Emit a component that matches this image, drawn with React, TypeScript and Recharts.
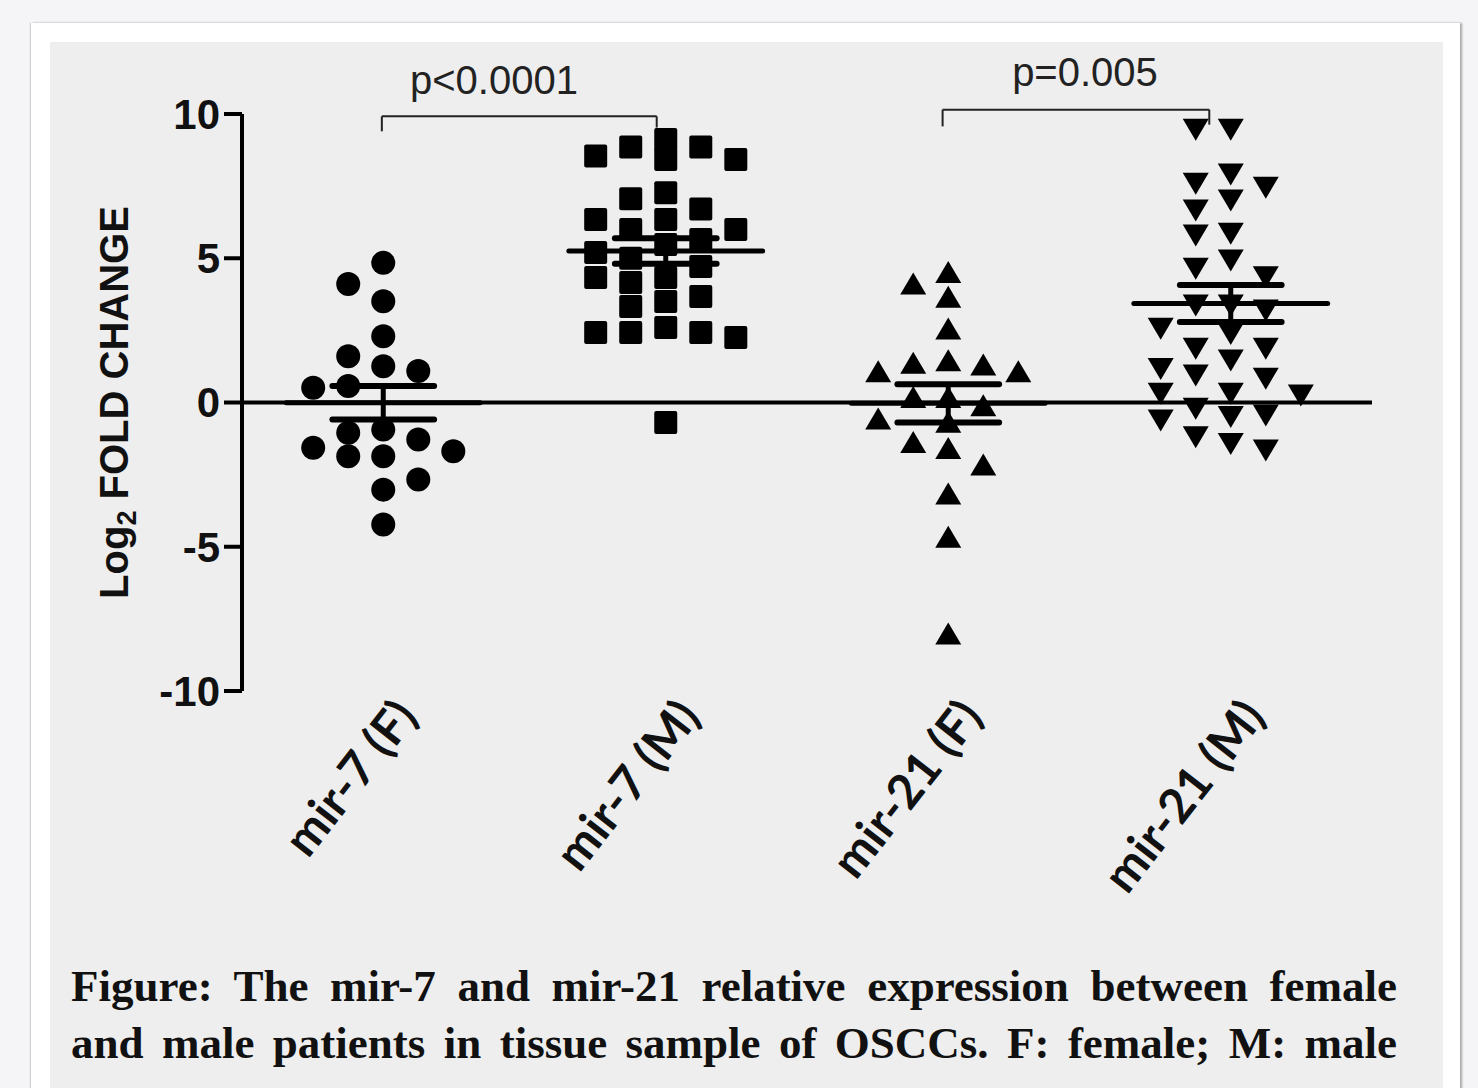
import React from 'react';
import { ScatterChart, Scatter, XAxis, YAxis, ReferenceLine, ReferenceDot } from 'recharts';

// groups on the x axis
const groups = ['mir-7 (F)', 'mir-7 (M)', 'mir-21 (F)', 'mir-21 (M)'];

// log2 fold change per patient
const mir7F = [4.84, 4.11, 3.51, 2.3, 1.6, 1.09, 1.26, 0.51, 0.57, -0.94, -1.28, -1.05, -1.69, -1.86, -1.86, -1.57, -2.67, -3.02, -4.23];
const mir7M = [9.12, 8.86, 8.86, 8.54, 8.42, 8.42, 7.27, 7.06, 6.71, 6.34, 6.34, 6.0, 6.0, 5.65, 5.48, 5.2, 5.0, 4.71, 4.33, 4.33, 4.16, 3.67, 3.5, 3.33, 2.6, 2.43, 2.43, 2.43, 2.25, -0.69];
const mir21F = [4.49, 4.09, 3.63, 2.53, 1.43, 1.34, 1.28, 1.05, 1.05, 0.16, 0.16, -0.13, -0.59, -0.7, -1.4, -1.61, -2.18, -3.19, -4.69, -8.04];
const mir21M = [9.49, 9.49, 7.94, 7.62, 7.48, 7.04, 6.69, 5.88, 5.82, 4.96, 4.67, 4.38, 3.4, 3.4, 3.22, 2.59, 2.41, 1.9, 1.9, 1.49, 1.2, 0.97, 0.86, 0.34, 0.34, 0.28, -0.18, -0.42, -0.47, -0.59, -1.17, -1.4, -1.63];

// mean +/- SEM bars as drawn
const groupMeans = [-0.01, 5.25, -0.03, 3.43];
const groupSems = [0.58, 0.44, 0.66, 0.64];

const yTicks = [-10, -5, 0, 5, 10];

const pLabels = ['p<0.0001', 'p=0.005'];

// layout bits
const SLOT = 0.124; // horizontal spacing of the dot columns (x units)
const GAP = 0.83; // marker height in y units
const MEAN_HALF = 0.343;
const CAP_HALF = 0.18;

// simple column swarm so the dots do not overlap
function swarm(values: number[], gi: number) {
  const placed: { slot: number; y: number }[] = [];
  const sorted = [...values].sort((a, b) => b - a);
  return sorted.map((v) => {
    const slots = [0, -1, 1, -2, 2];
    let best = 0;
    let bestD = -1;
    for (const s of slots) {
      const ds = placed.filter((p) => p.slot === s).map((p) => Math.abs(p.y - v));
      const d = ds.length ? Math.min(...ds) : Infinity;
      if (d >= GAP) {
        best = s;
        break;
      }
      if (d > bestD) {
        bestD = d;
        best = s;
      }
    }
    placed.push({ slot: best, y: v });
    return { x: gi + 0.5 + best * SLOT, y: v };
  });
}

const series = [mir7F, mir7M, mir21F, mir21M].map((vals, i) => swarm(vals, i));

const Dot = (p: any) => <circle cx={p.cx} cy={p.cy} r={12} fill="#000" />;
const Sq = (p: any) => <rect x={p.cx - 11.5} y={p.cy - 11.5} width={23} height={23} rx={2} fill="#000" />;
const TriUp = (p: any) => (
  <polygon points={`${p.cx},${p.cy - 12} ${p.cx - 13},${p.cy + 10} ${p.cx + 13},${p.cy + 10}`} fill="#000" />
);
const TriDown = (p: any) => (
  <polygon points={`${p.cx - 13},${p.cy - 10} ${p.cx + 13},${p.cy - 10} ${p.cx},${p.cy + 12}`} fill="#000" />
);
const shapes = [Dot, Sq, TriUp, TriDown];

const XTick = (props: any) => {
  const { x, y, payload } = props;
  const tx = x + 36;
  const ty = y + 26;
  return (
    <text
      x={tx}
      y={ty}
      transform={`rotate(-52 ${tx} ${ty})`}
      textAnchor="end"
      fontFamily="Lato, 'Open Sans', sans-serif"
      fontWeight={700}
      fontSize={48}
      fill="#111"
    >
      {groups[Math.floor(payload.value)]}
    </text>
  );
};

const YLabel = (props: any) => {
  const vb = props.viewBox || { x: 0, y: 114, width: 242, height: 577 };
  const tx = vb.x + 128;
  const ty = vb.y + vb.height / 2;
  return (
    <text
      x={tx}
      y={ty}
      transform={`rotate(-90 ${tx} ${ty})`}
      textAnchor="middle"
      fontFamily="'Liberation Sans', Arial, sans-serif"
      fontWeight={700}
      fontSize={40}
      fill="#111"
    >
      Log
      <tspan dy={8} fontSize={27}>2</tspan>
      <tspan dy={-8}> FOLD CHANGE</tspan>
    </text>
  );
};

const PLabel = (props: any) => {
  const vb = props.viewBox || { x: 0, y: 0 };
  return (
    <text
      x={vb.x}
      y={vb.y}
      textAnchor="middle"
      fontFamily="'Liberation Sans', Arial, sans-serif"
      fontSize={40}
      fill="#222"
    >
      {props.text}
    </text>
  );
};

// bracket geometry (x in group units, y in data units)
const brackets = [
  { x1: 0.495, x2: 1.468, top: 9.92, l: 9.4, r: 9.53, tx: 0.892, ty: 10.69 },
  { x1: 2.48, x2: 3.424, top: 10.15, l: 9.57, r: 9.63, tx: 2.984, ty: 10.97 },
];

export default function App() {
  const axisFont = { fontFamily: "'Liberation Sans', Arial, sans-serif", fontWeight: 700, fontSize: 42, fill: '#111' };
  return (
    <div
      style={{
        position: 'absolute',
        left: 0,
        top: 0,
        width: 1478,
        height: 1088,
        background: '#f5f5f7',
        overflow: 'hidden',
      }}
    >
      <div
        style={{
          position: 'absolute',
          left: 31,
          top: 23,
          width: 1429,
          height: 1100,
          background: '#fff',
          boxShadow: '-1px 0 1px #cfcfcf, 2px 0 2px #a8a8a8',
        }}
      />
      <div style={{ position: 'absolute', left: 50, top: 42, width: 1393, height: 1100, background: '#eeeeee' }} />
      <div style={{ position: 'absolute', left: 0, top: 0 }}>
        <ScatterChart width={1478} height={1000} margin={{ top: 114, right: 106, bottom: 0, left: 0 }}>
          <XAxis
            type="number"
            dataKey="x"
            domain={[0, 4]}
            ticks={[0.5, 1.5, 2.5, 3.5]}
            axisLine={false}
            tickLine={false}
            tickSize={0}
            tickMargin={0}
            height={309}
            interval={0}
            tick={<XTick />}
          />
          <YAxis
            type="number"
            dataKey="y"
            domain={[-10, 10]}
            ticks={yTicks}
            width={242}
            interval={0}
            axisLine={{ stroke: '#000', strokeWidth: 4 }}
            tickLine={{ stroke: '#000', strokeWidth: 4 }}
            tickSize={18}
            tickMargin={4}
            tick={axisFont}
            label={<YLabel />}
          />
          <ReferenceLine y={0} stroke="#000" strokeWidth={4} />
          {series.map((data, i) => (
            <Scatter key={groups[i]} data={data} shape={shapes[i]} isAnimationActive={false} />
          ))}
          {groupMeans.map((m, i) => {
            const c = i + 0.5;
            const s = groupSems[i];
            return (
              <React.Fragment key={'ms' + i}>
                <ReferenceLine
                  segment={[{ x: c - MEAN_HALF, y: m }, { x: c + MEAN_HALF, y: m }]}
                  stroke="#000"
                  strokeWidth={5}
                  strokeLinecap="round"
                />
                <ReferenceLine
                  segment={[{ x: c, y: m - s }, { x: c, y: m + s }]}
                  stroke="#000"
                  strokeWidth={5}
                />
                <ReferenceLine
                  segment={[{ x: c - CAP_HALF, y: m + s }, { x: c + CAP_HALF, y: m + s }]}
                  stroke="#000"
                  strokeWidth={6}
                  strokeLinecap="round"
                />
                <ReferenceLine
                  segment={[{ x: c - CAP_HALF, y: m - s }, { x: c + CAP_HALF, y: m - s }]}
                  stroke="#000"
                  strokeWidth={6}
                  strokeLinecap="round"
                />
              </React.Fragment>
            );
          })}
          {brackets.map((b, i) => (
            <React.Fragment key={'br' + i}>
              <ReferenceLine
                segment={[{ x: b.x1, y: b.top }, { x: b.x2, y: b.top }]}
                stroke="#222"
                strokeWidth={2}
                ifOverflow="visible"
              />
              <ReferenceLine
                segment={[{ x: b.x1, y: b.top }, { x: b.x1, y: b.l }]}
                stroke="#222"
                strokeWidth={2}
                ifOverflow="visible"
              />
              <ReferenceLine
                segment={[{ x: b.x2, y: b.top }, { x: b.x2, y: b.r }]}
                stroke="#222"
                strokeWidth={2}
                ifOverflow="visible"
              />
              <ReferenceDot
                x={b.tx}
                y={b.ty}
                r={0}
                fill="none"
                stroke="none"
                ifOverflow="visible"
                label={<PLabel text={pLabels[i]} />}
              />
            </React.Fragment>
          ))}
        </ScatterChart>
      </div>
      {[
        'Figure: The mir-7 and mir-21 relative expression between female',
        'and male patients in tissue sample of OSCCs. F: female; M: male',
      ].map((line, i) => (
        <div
          key={i}
          style={{
            position: 'absolute',
            left: 71,
            top: 958 + i * 57,
            width: 1326,
            lineHeight: '57px',
            fontFamily: "'Liberation Serif', 'Times New Roman', serif",
            fontWeight: 700,
            fontSize: 45,
            color: '#111',
            whiteSpace: 'nowrap',
            textAlign: 'justify',
            textAlignLast: 'justify',
          }}
        >
          {line}
        </div>
      ))}
    </div>
  );
}
